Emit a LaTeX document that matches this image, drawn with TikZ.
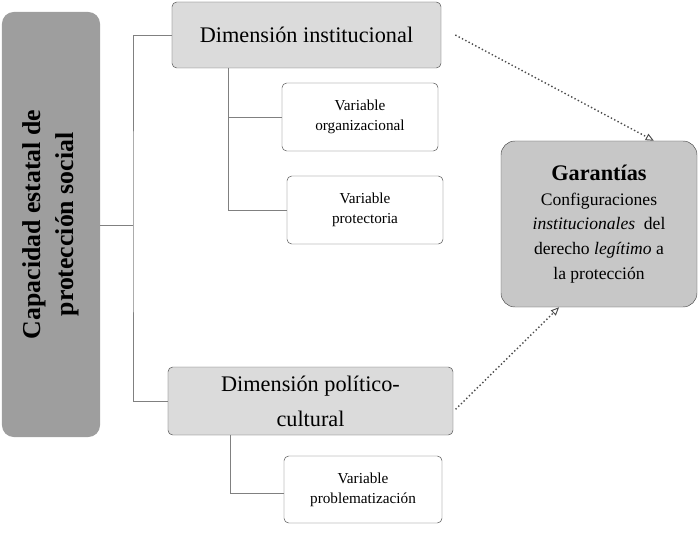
\documentclass[tikz,border=0pt]{standalone}
\usepackage{fontspec}
\setmainfont{Liberation Serif}
\usetikzlibrary{arrows.meta}
\definecolor{oscuro}{gray}{0.62}
\definecolor{medio}{gray}{0.78}
\definecolor{claro}{gray}{0.86}

\begin{document}
\begin{tikzpicture}[x=0.03cm, y=-0.03cm]
        \tikzset{
            caja/.style={draw=black!70, rounded corners=4pt, align=center, inner sep=0pt},
            dim/.style={caja, fill=claro, font=\fontsize{19}{22}\selectfont},
            var/.style={caja, fill=white, font=\fontsize{13}{17}\selectfont},
            rama/.style={draw=gray, line width=0.6pt},
            flecha/.style={draw=black!70, dotted, line width=1.2pt, -{Triangle[open, length=7pt, width=6pt, line width=0.8pt]}}
        }
        \useasboundingbox (0,0) rectangle (700,537);

        \node[caja, fill=oscuro, rounded corners=10pt, draw=none, minimum width=2.94cm, minimum height=12.75cm] (cap) at (51,224.5) {};
        \node[rotate=90, align=center, font=\bfseries\fontsize{22}{28}\selectfont] at (cap) {Capacidad estatal de\\protección social};

        \node[dim, minimum width=8.07cm, minimum height=1.98cm] (inst) at (306.5,35) {Dimensión institucional};
        \node[var, minimum width=4.68cm, minimum height=2.04cm] (org) at (360,117) {Variable\\organizacional};
        \node[var, minimum width=4.68cm, minimum height=2.04cm] (prot) at (365,210) {Variable\\protectoria};
        \node[dim, minimum width=8.55cm, minimum height=2.04cm, font=\fontsize{19}{30}\selectfont] (pol) at (310.5,401) {Dimensión político-\\cultural};
        \node[var, minimum width=4.74cm, minimum height=2.01cm] (probl) at (363,489.5) {Variable\\problematización};
        \node[caja, fill=medio, rounded corners=12pt, minimum width=5.88cm, minimum height=4.98cm, font=\fontsize{15}{21}\selectfont] (gar) at (599,224) {{\bfseries\fontsize{19}{23}\selectfont Garantías}\\Configuraciones\\\textit{institucionales}\enspace del\\derecho \textit{legítimo} a\\la protección};

        \coordinate (tronco) at (133,225);
        \coordinate (ejeA) at (228,210);
        \coordinate (ejeB) at (230,493);

        \draw[rama] (cap.east |- tronco) -- (tronco);
        \draw[rama] (inst.west) -| (tronco) |- (pol.west);
        \draw[rama] (inst.south -| ejeA) -- (ejeA) -- (prot.west |- ejeA);
        \draw[rama] (ejeA |- org.west) -- (org.west);
        \draw[rama] (pol.south -| ejeB) -- (ejeB) -- (probl.west |- ejeB);

        \draw[flecha] ([xshift=12pt]inst.east) -- ([xshift=-1.3cm]gar.north east);
        \draw[flecha] ([xshift=2pt,yshift=-0.25cm]pol.east) -- ([xshift=1.75cm]gar.south west);
    \end{tikzpicture}
\end{document}
